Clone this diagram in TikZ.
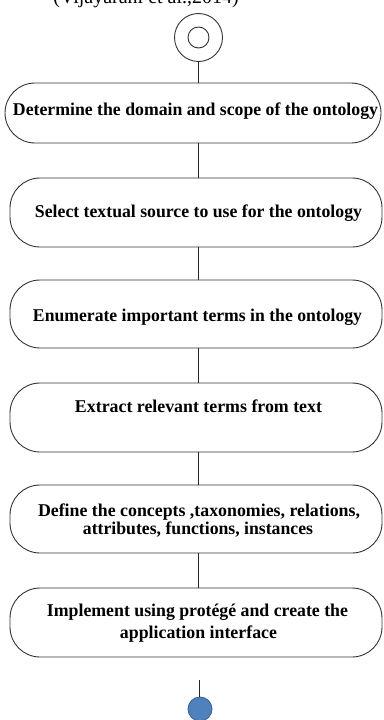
\documentclass[tikz,border=0pt]{standalone}
\usepackage{fontspec}
\setmainfont{Liberation Serif}
\usepackage{graphicx}
\newcommand{\fw}[2]{\resizebox{#1pt}{\height}{#2}}
\tikzset{
  box/.style={draw=black!80, line width=0.9pt, rounded corners=30pt, inner sep=0pt},
  lbl/.style={anchor=base, inner sep=0pt, font=\bfseries\fontsize{18}{21}\selectfont},
  ln/.style={draw=black!85, line width=1pt},
  ring/.style={circle, draw=black!80, line width=0.9pt, inner sep=0pt},
  endc/.style={circle, draw={rgb,255:red,56;green,93;blue,138}, line width=0.8pt, fill={rgb,255:red,79;green,129;blue,189}, inner sep=0pt, minimum size=24pt},
}
\begin{document}
\begin{tikzpicture}[x=1pt,y=-1pt]
\useasboundingbox (0,0) rectangle (383,720);
\begin{scope}
\clip (0,0) rectangle (383,720);
\node[anchor=base east, inner sep=0pt, font=\fontsize{20}{20}\selectfont] (cite) at (239,4) {(Vijayarani et al.,2014)};
% start
\node[ring, minimum size=48pt] (c0) at (198.5,37.5) {};
\node[ring, minimum size=21pt] (c0i) at (198.5,37.5) {};
% boxes
\node[box, minimum width=376pt, minimum height=60pt] (b1) at (193,113) {};
\node[box, minimum width=372pt, minimum height=69pt] (b2) at (196,212.5) {};
\node[box, minimum width=372pt, minimum height=68pt] (b3) at (196,314) {};
\node[box, minimum width=372pt, minimum height=69pt] (b4) at (196,417.5) {};
\node[box, minimum width=372pt, minimum height=68pt] (b5) at (196,519) {};
\node[box, minimum width=372pt, minimum height=69pt] (b6) at (196,622.5) {};
% labels
\node[lbl] (t1) at (195.5,115) {\fw{365}{Determine the domain and scope of the ontology}};
\node[lbl] (t2) at (198.5,217) {\fw{327}{Select textual source to use for the ontology}};
\node[lbl] (t3) at (197.5,321) {\fw{329}{Enumerate important terms in the ontology}};
\node[lbl] (t4) at (198.5,412) {\fw{247}{Extract relevant terms from text}};
\node[lbl] (t5a) at (199,516) {\fw{322}{Define the concepts ,taxonomies, relations,}};
\node[lbl] (t5b) at (198,534) {\fw{230}{attributes, functions, instances}};
\node[lbl] (t6a) at (197.5,616) {\fw{301}{Implement using protégé and create the}};
\node[lbl] (t6b) at (198.5,638) {\fw{157}{application interface}};
% connectors
\draw[ln] (c0.south) -- (c0.south |- b1.north);
\draw[ln] (c0.south |- b1.south) -- (c0.south |- b2.north);
\draw[ln] (c0.south |- b2.south) -- (c0.south |- b3.north);
\draw[ln] (c0.south |- b3.south) -- (c0.south |- b4.north);
\draw[ln] (c0.south |- b4.south) -- (c0.south |- b5.north);
\draw[ln] (c0.south |- b5.south) -- (c0.south |- b6.north);
% end
\node[endc] (e) at (200,709) {};
\coordinate (e0) at (199,680);
\draw[ln] (e0) -- (e0 |- e.north);
\end{scope}
\end{tikzpicture}
\end{document}
